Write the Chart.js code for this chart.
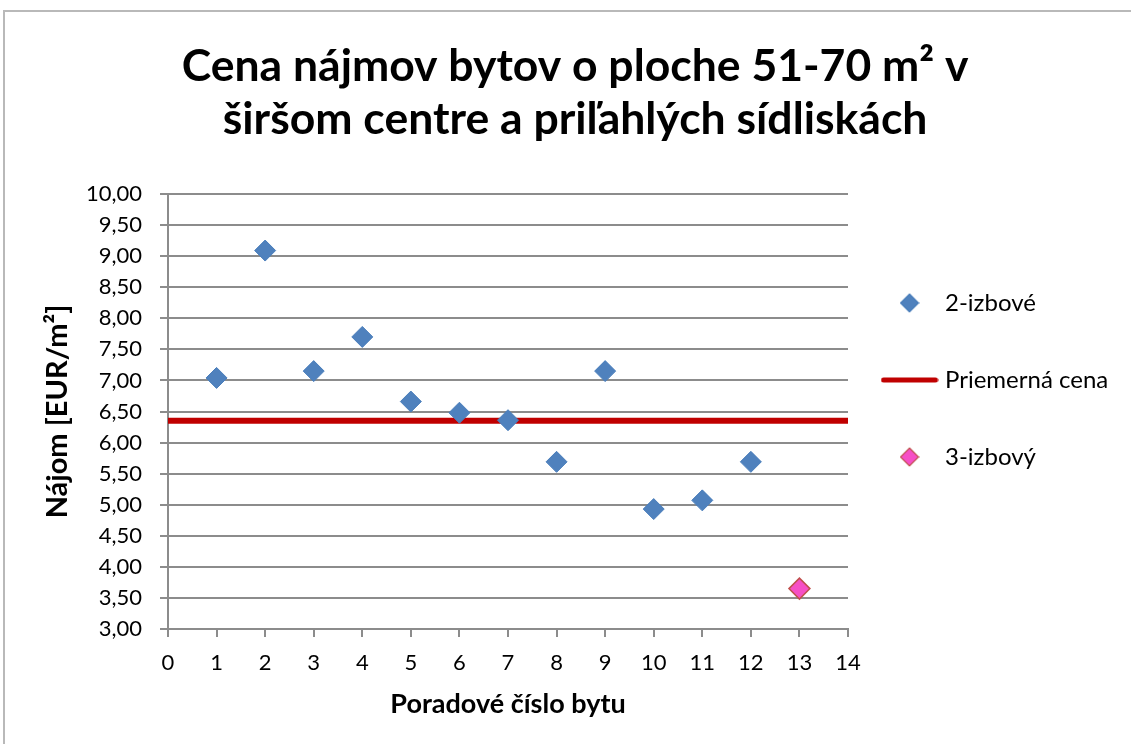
<!DOCTYPE html>
<html lang="sk">
<head>
<meta charset="utf-8">
<title>Cena nájmov bytov</title>
<script src="https://cdn.jsdelivr.net/npm/chart.js@4.4.1/dist/chart.umd.min.js"></script>
<style>
  html, body { margin: 0; padding: 0; background: #fff; overflow: hidden; }
  #ramec { position: absolute; left: 3px; top: 10px; width: 1140px; height: 745px;
           border-left: 2px solid #b9b9b9; border-top: 2px solid #b9b9b9; }
  canvas { display: block; }
</style>
</head>
<body>
<div id="ramec"><canvas id="graf" width="1126" height="732"></canvas></div>
<script>
// údaje odčítané z grafu
const poradie2 = [1, 2, 3, 4, 5, 6, 7, 8, 9, 10, 11, 12];
const najom2 = [7.04, 9.09, 7.15, 7.70, 6.66, 6.48, 6.36, 5.69, 7.15, 4.93, 5.07, 5.69];
const poradie3 = [13];
const najom3 = [3.65];
const priemerX = [0, 14];
const priemerY = [6.35, 6.35];

const nazvy = ['2-izbové', 'Priemerná cena', '3-izbový'];
const nadpis = ['Cena nájmov bytov o ploche 51-70 m² v', 'širšom centre a priľahlých sídliskách'];

const modra = '#4f81bd';
const cervena = '#c00000';
const ruzova = '#f64fc6';
const mriezka = '#8c8c8c';

const bodyZ = (xs, ys) => xs.map((x, i) => ({ x: x, y: ys[i] }));

// ikonky do legendy
function kosostvorec(fill, stroke) {
  const c = document.createElement('canvas');
  c.width = 20; c.height = 20;
  const g = c.getContext('2d');
  g.beginPath();
  g.moveTo(10, 1); g.lineTo(19, 10); g.lineTo(10, 19); g.lineTo(1, 10);
  g.closePath();
  g.fillStyle = fill; g.fill();
  g.strokeStyle = stroke; g.lineWidth = 1.2; g.stroke();
  return c;
}
function ciara(color) {
  const c = document.createElement('canvas');
  c.width = 58; c.height = 8;
  const g = c.getContext('2d');
  g.strokeStyle = color; g.lineWidth = 5; g.lineCap = 'round';
  g.beginPath(); g.moveTo(3, 4); g.lineTo(55, 4); g.stroke();
  return c;
}
const ikony = [kosostvorec(modra, '#4a7ebb'), ciara(cervena), kosostvorec(ruzova, '#c0504d')];

// rozmery
const pismoLegendy = 24;
const mer = document.createElement('canvas').getContext('2d');
mer.font = pismoLegendy + 'px Lato';
const sirkaTextu = Math.max(...nazvy.map(t => mer.measureText(t).width));
const okrajVlavo = Math.round(190 - sirkaTextu);
const okrajVpravo = 1126 - (950 + sirkaTextu);

Chart.defaults.font.family = 'Lato';
Chart.defaults.color = '#000';

new Chart(document.getElementById('graf'), {
  type: 'scatter',
  data: {
    datasets: [
      {
        label: nazvy[0],
        data: bodyZ(poradie2, najom2),
        pointStyle: 'rectRot',
        pointRadius: 10.5,
        backgroundColor: modra,
        borderColor: '#4a7ebb',
        borderWidth: 1,
        order: 1
      },
      {
        type: 'line',
        label: nazvy[1],
        data: bodyZ(priemerX, priemerY),
        borderColor: cervena,
        backgroundColor: cervena,
        borderWidth: 6,
        pointRadius: 0,
        fill: false,
        order: 2
      },
      {
        label: nazvy[2],
        data: bodyZ(poradie3, najom3),
        pointStyle: 'rectRot',
        pointRadius: 10.5,
        backgroundColor: ruzova,
        borderColor: '#c0504d',
        borderWidth: 1.5,
        order: 1
      }
    ]
  },
  options: {
    responsive: false,
    animation: false,
    layout: { padding: { left: okrajVlavo, right: okrajVpravo, top: 19, bottom: 0 } },
    plugins: {
      tooltip: { enabled: false },
      title: {
        display: true,
        text: nadpis,
        font: { size: 44.5, weight: 'bold', lineHeight: 53 / 44.5 },
        padding: { top: 9, bottom: 48 }
      },
      legend: {
        position: 'right',
        labels: {
          usePointStyle: true,
          pointStyleWidth: 47,
          boxHeight: 14,
          padding: 38,
          font: { size: pismoLegendy, lineHeight: 1.625 },
          generateLabels: chart => chart.data.datasets.map((ds, i) => ({
            text: [ds.label],
            fillStyle: ds.backgroundColor,
            strokeStyle: ds.borderColor,
            lineWidth: 0,
            pointStyle: ikony[i],
            hidden: false,
            datasetIndex: i
          }))
        }
      }
    },
    scales: {
      x: {
        type: 'linear',
        min: 0,
        max: 14,
        afterFit: s => { s.height = 115; },
        ticks: { stepSize: 1, padding: 13, font: { size: 22 } },
        grid: { drawOnChartArea: false, drawTicks: true, tickLength: 8, color: mriezka, lineWidth: 2 },
        border: { color: mriezka, width: 2 },
        title: {
          display: true,
          text: 'Poradové číslo bytu',
          font: { size: 27, weight: 'bold' },
          padding: { top: 0, bottom: 23.8 }
        }
      },
      y: {
        type: 'linear',
        min: 3,
        max: 10,
        afterFit: s => { s.width = 163 - okrajVlavo; },
        ticks: {
          stepSize: 0.5,
          padding: 18,
          font: { size: 22 },
          callback: v => v.toFixed(2).replace('.', ',')
        },
        grid: { tickLength: 8, color: mriezka, lineWidth: 2 },
        border: { color: mriezka, width: 2 },
        title: {
          display: true,
          text: 'Nájom [EUR/m²]',
          font: { size: 29, weight: 'bold' },
          padding: { top: 53 - okrajVlavo - 17.4, bottom: 0 }
        }
      }
    }
  }
});
</script>
</body>
</html>
